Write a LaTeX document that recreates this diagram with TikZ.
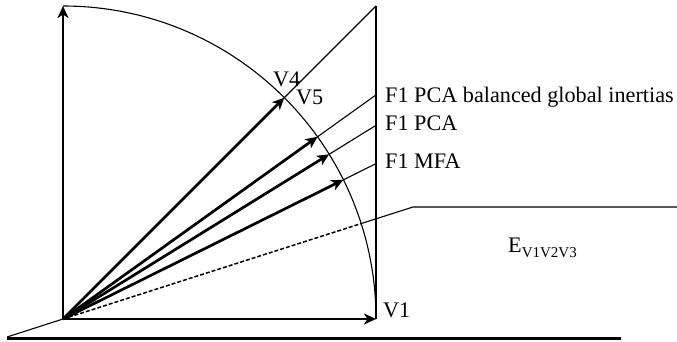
\documentclass[tikz,border=0pt]{standalone}
\usepackage{fontspec}
\setmainfont{Liberation Serif}
\usetikzlibrary{arrows.meta,calc}
\definecolor{baseline}{RGB}{110,110,110}
\begin{document}
\begin{tikzpicture}[x=1pt,y=1pt,
  vec/.style={line width=2.7pt,line cap=butt,-{Stealth[length=12pt,width=11pt,inset=3.5pt]}},
  thinline/.style={line width=1.1pt},
  lbl/.style={anchor=base west,inner sep=0pt,font=\fontsize{22.2}{24}\selectfont}]
\useasboundingbox (0,0) rectangle (677,341);
\def\R{313}
\coordinate (O) at (63,22);
\coordinate (Top) at (63,335);
\coordinate (Right) at (376,22);
\coordinate (Corner) at (376,335);
\coordinate (P45) at ($(O)+(45:\R)$);
\coordinate (P36) at ($(O)+(35.6:\R)$);
\coordinate (P32) at ($(O)+(31.75:\R)$);
\coordinate (P26) at ($(O)+(26.4:\R)$);
\coordinate (P18) at ($(O)+(17.75:\R)$);
\coordinate (L36) at ($(O)+(313,{313*tan(35.6)})$);
\coordinate (L32) at ($(O)+(313,{313*tan(31.75)})$);
\coordinate (L26) at ($(O)+(313,{313*tan(26.4)})$);
\coordinate (Ebend) at (413,134);
\coordinate (Eend) at (677,134);
\coordinate (B0) at (7,4);
\coordinate (B1) at (621,2.5);
\coordinate (B2) at (7,2.5);
% quarter circle and frame lines
\draw[thinline] (Top) arc[start angle=90,end angle=0,radius=\R];
\draw[thinline] (Right) -- (Corner);
\draw[thinline] (P45) -- (Corner);
\draw[thinline] (P36) -- (L36);
\draw[thinline] (P32) -- (L32);
\draw[thinline] (P26) -- (L26);
% plane E
\draw[line width=1.5pt,dash pattern=on 4pt off 2pt] (O) -- (P18);
\draw[thinline] (P18) -- (Ebend) -- (Eend);
\draw[thinline] (B0) -- (O);
\draw[baseline,line width=2.4pt] (B2) -- (B1);
% vectors
\draw[vec] (O) -- (Top);
\draw[vec] (O) -- (Right);
\draw[vec] (O) -- (P45);
\draw[vec] (O) -- (P36);
\draw[vec] (O) -- (P32);
\draw[vec] (O) -- (P26);
% labels
\node[lbl] (v4) at (273,255) {V4};
\node[lbl] (v5) at (296,237) {V5};
\node[lbl] (v1) at (383,24) {V1};
\node[lbl] (f1) at (385,239) {F1 PCA balanced global inertias};
\node[lbl] (f2) at (385,211) {F1 PCA};
\node[lbl] (f3) at (385,173) {F1 MFA};
\node[lbl] (e) at (508,89) {E\raisebox{-5pt}{\fontsize{15}{15}\selectfont V1V2V3}};
\end{tikzpicture}
\end{document}
